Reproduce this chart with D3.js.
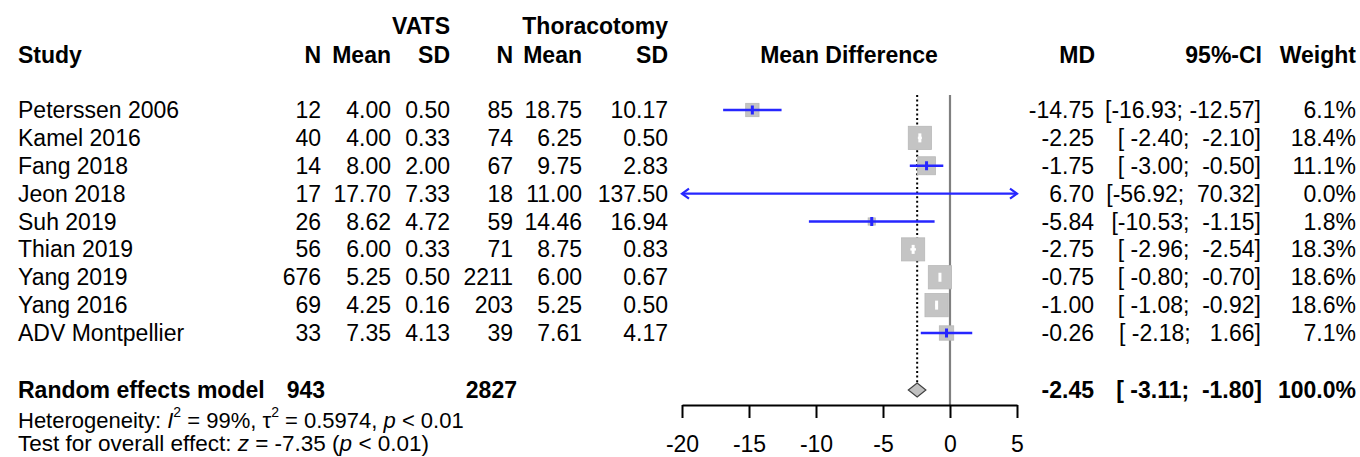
<!DOCTYPE html>
<html>
<head>
<meta charset="utf-8">
<script src="https://cdn.jsdelivr.net/npm/d3@7"></script>
<style>
html,body{margin:0;padding:0;background:#fff;}
svg text{font-family:"Liberation Sans",Arial,sans-serif;fill:#000;}
</style>
</head>
<body>
<svg id="chart" width="1360" height="457"></svg>
<script>
const studies = ["Peterssen 2006","Kamel 2016","Fang 2018","Jeon 2018","Suh 2019","Thian 2019","Yang 2019","Yang 2016","ADV Montpellier"];
const vatsN = [12,40,14,17,26,56,676,69,33];
const vatsMean = [4.00,4.00,8.00,17.70,8.62,6.00,5.25,4.25,7.35];
const vatsSD = [0.50,0.33,2.00,7.33,4.72,0.33,0.50,0.16,4.13];
const thorN = [85,74,67,18,59,71,2211,203,39];
const thorMean = [18.75,6.25,9.75,11.00,14.46,8.75,6.00,5.25,7.61];
const thorSD = [10.17,0.50,2.83,137.50,16.94,0.83,0.67,0.50,4.17];
const md = [-14.75,-2.25,-1.75,6.70,-5.84,-2.75,-0.75,-1.00,-0.26];
const ciLow = [-16.93,-2.40,-3.00,-56.92,-10.53,-2.96,-0.80,-1.08,-2.18];
const ciHigh = [-12.57,-2.10,-0.50,70.32,-1.15,-2.54,-0.70,-0.92,1.66];
const weights = [6.1,18.4,11.1,0.0,1.8,18.3,18.6,18.6,7.1];
const overallMD = -2.45, overallLow = -3.11, overallHigh = -1.80;
const totalVats = 943, totalThor = 2827;
const axisTicks = [-20,-15,-10,-5,0,5];

const FS = 23;
const svg = d3.select("#chart");
const x = d3.scaleLinear().domain([-20,5]).range([682,1017]);
const y = d3.scaleLinear().domain([0,8]).range([110,333]);
const ySum = 390;
const blue = "#2626ff";

function txt(xp, yp, s, anchor, bold, size){
  return svg.append("text").attr("x",xp).attr("y",yp)
    .attr("dominant-baseline","central")
    .attr("text-anchor",anchor||"start")
    .attr("font-size",size||FS)
    .attr("font-weight",bold?"bold":"normal")
    .style("white-space","pre")
    .text(s);
}
const f2 = v => v.toFixed(2);
const f1 = v => v.toFixed(1);
function pad(s,w){ while(s.length<w) s=" "+s; return s; }

// headers
txt(450,26,"VATS","end",true);
txt(668,26,"Thoracotomy","end",true);
txt(18,55,"Study","start",true);
txt(321,55,"N","end",true);
txt(391,55,"Mean","end",true);
txt(450,55,"SD","end",true);
txt(513,55,"N","end",true);
txt(582,55,"Mean","end",true);
txt(668,55,"SD","end",true);
txt(849,55,"Mean Difference","middle",true);
txt(1095,55,"MD","end",true);
txt(1262,55,"95%-CI","end",true);
txt(1356,55,"Weight","end",true);

// reference lines
svg.append("line").attr("x1",x(0)).attr("x2",x(0)).attr("y1",95).attr("y2",405)
  .attr("stroke","#808080").attr("stroke-width",2.2);
svg.append("line").attr("x1",x(overallMD)).attr("x2",x(overallMD)).attr("y1",95).attr("y2",ySum-7)
  .attr("stroke","#000").attr("stroke-width",2).attr("stroke-dasharray","2,2.6");

// rows
const wLow = d3.max(ciLow.map(v=>f2(v).length));
const wHigh = d3.max(ciHigh.map(v=>f2(v).length));
studies.forEach((s,i)=>{
  const yy = y(i);
  txt(18,yy,s);
  txt(321,yy,String(vatsN[i]),"end");
  txt(391,yy,f2(vatsMean[i]),"end");
  txt(450,yy,f2(vatsSD[i]),"end");
  txt(513,yy,String(thorN[i]),"end");
  txt(582,yy,f2(thorMean[i]),"end");
  txt(668,yy,f2(thorSD[i]),"end");
  txt(1094,yy,f2(md[i]),"end");
  txt(1261,yy,"["+pad(f2(ciLow[i]),wLow)+"; "+pad(f2(ciHigh[i]),wHigh)+"]","end");
  txt(1356,yy,f1(weights[i])+"%","end");

  // forest marks
  const side = 5.4*Math.sqrt(weights[i]);
  const cx = x(md[i]);
  if (side>0){
    svg.append("rect").attr("x",cx-side/2).attr("y",yy-side/2).attr("width",side).attr("height",side)
      .attr("fill","#c4c4c4").attr("stroke","#b8b8b8").attr("stroke-width",0.8);
  }
  const lo = Math.max(ciLow[i],-20), hi = Math.min(ciHigh[i],5);
  const inside = (x(ciHigh[i])-x(ciLow[i])) < side;
  const col = inside ? "#ffffff" : blue;
  svg.append("line").attr("x1",x(lo)).attr("x2",x(hi)).attr("y1",yy).attr("y2",yy)
    .attr("stroke",col).attr("stroke-width",2.4);
  if (ciLow[i] < -20){
    svg.append("path").attr("d",`M${x(-20)+7},${yy-5} L${x(-20)},${yy} L${x(-20)+7},${yy+5}`)
      .attr("fill","none").attr("stroke",blue).attr("stroke-width",2.2);
  }
  if (ciHigh[i] > 5){
    svg.append("path").attr("d",`M${x(5)-7},${yy-5} L${x(5)},${yy} L${x(5)-7},${yy+5}`)
      .attr("fill","none").attr("stroke",blue).attr("stroke-width",2.2);
  }
  if (side>0){
    svg.append("rect").attr("x",cx-1.5).attr("y",yy-4.5).attr("width",3).attr("height",9)
      .attr("fill",col);
  }
});

// summary row
txt(18,ySum,"Random effects model","start",true);
txt(325,ySum,String(totalVats),"end",true);
txt(517,ySum,String(totalThor),"end",true);
txt(1094,ySum,f2(overallMD),"end",true);
txt(1262,ySum,"["+pad(f2(overallLow),wLow)+"; "+pad(f2(overallHigh),wHigh)+"]","end",true);
txt(1356,ySum,"100.0%","end",true);

svg.append("path")
  .attr("d",`M${x(overallLow)},${ySum} L${x(overallMD)},${ySum-7} L${x(overallHigh)},${ySum} L${x(overallMD)},${ySum+7} Z`)
  .attr("fill","#c0c0c0").attr("stroke","#404040").attr("stroke-width",1.2);

// heterogeneity text
const h = svg.append("text").attr("x",18).attr("y",420).attr("dominant-baseline","central")
  .attr("font-size",22).style("white-space","pre");
h.append("tspan").text("Heterogeneity: ");
h.append("tspan").attr("font-style","italic").text("I");
h.append("tspan").attr("font-size",14).attr("dy",-8).text("2");
h.append("tspan").attr("dy",8).text(" = 99%, τ");
h.append("tspan").attr("font-size",14).attr("dy",-8).text("2");
h.append("tspan").attr("dy",8).text(" = 0.5974, ");
h.append("tspan").attr("font-style","italic").text("p");
h.append("tspan").text(" < 0.01");

const t = svg.append("text").attr("x",18).attr("y",443).attr("dominant-baseline","central")
  .attr("font-size",22.5).style("white-space","pre");
t.append("tspan").text("Test for overall effect: ");
t.append("tspan").attr("font-style","italic").text("z");
t.append("tspan").text(" = -7.35 (");
t.append("tspan").attr("font-style","italic").text("p");
t.append("tspan").text(" < 0.01)");

// axis
const ax = svg.append("g").attr("transform","translate(0,405)")
  .call(d3.axisBottom(x).tickValues(axisTicks).tickSize(13).tickSizeOuter(0).tickPadding(18).tickFormat(d => String(d)));
ax.select(".domain").attr("stroke","#000").attr("stroke-width",2);
ax.selectAll(".tick line").attr("stroke","#000").attr("stroke-width",2);
ax.selectAll(".tick text").attr("font-size",FS).attr("font-family","Liberation Sans, Arial, sans-serif").attr("fill","#000");
</script>
</body>
</html>
